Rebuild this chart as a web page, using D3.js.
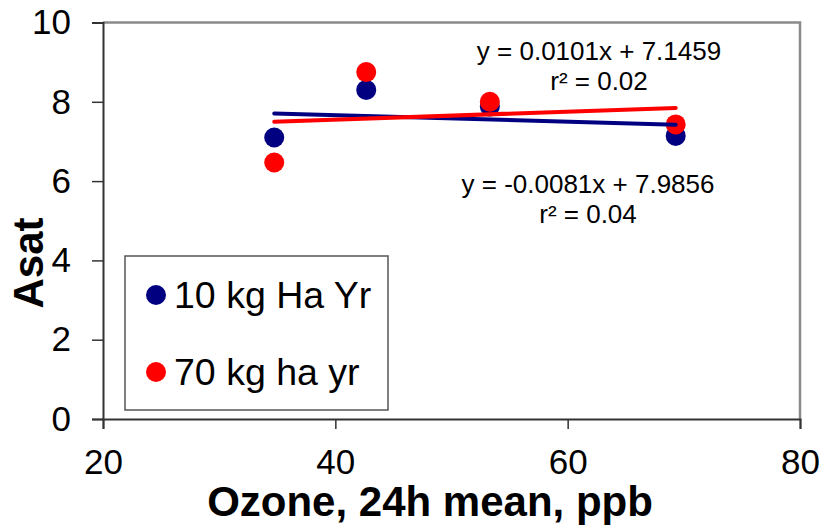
<!DOCTYPE html>
<html>
<head>
<meta charset="utf-8">
<script src="https://cdn.jsdelivr.net/npm/d3@7"></script>
<style>
  html, body { margin: 0; padding: 0; background: #fff; }
  svg { display: block; font-family: "Liberation Sans", Arial, Helvetica, sans-serif; }
</style>
</head>
<body>
<svg id="chart" width="824" height="527"></svg>
<script>
// Ozone exposure (24h mean, ppb) and light-saturated assimilation
const ozone = [34.74, 42.66, 53.3, 69.3];
const asatLowN = [7.10, 8.30, 7.88, 7.14];   // 10 kg Ha Yr
const asatHighN = [6.47, 8.75, 8.00, 7.43];  // 70 kg ha yr

const seriesNames = ["10 kg Ha Yr", "70 kg ha yr"];
const seriesColors = ["#000080", "#FF0000"];

// Linear fits shown on the chart
const fitSlopes = [-0.0081, 0.0101];
const fitIntercepts = [7.9856, 7.1459];
const fitR2 = ["0.04", "0.02"];

const xTicks = [20, 40, 60, 80];
const yTicks = [0, 2, 4, 6, 8, 10];

const svg = d3.select("#chart");
const plotLeft = 103, plotRight = 800, plotTop = 22.5, plotBottom = 419;

const x = d3.scaleLinear().domain([20, 80]).range([plotLeft, plotRight]);
const y = d3.scaleLinear().domain([0, 10]).range([plotBottom, plotTop]);

// Plot frame (top and right edges)
svg.append("path")
  .attr("d", `M${plotLeft},${plotTop}H${plotRight}V${plotBottom}`)
  .attr("fill", "none")
  .attr("stroke", "#8a8a8a")
  .attr("stroke-width", 2.5);

// Y axis
const yAxis = svg.append("g")
  .attr("transform", `translate(${plotLeft},0)`)
  .call(d3.axisLeft(y).tickValues(yTicks).tickSize(11).tickPadding(21).tickFormat(d3.format("d")));
yAxis.select(".domain").attr("stroke", "#333").attr("stroke-width", 2);
yAxis.selectAll(".tick line").attr("stroke", "#333").attr("stroke-width", 1.5);
yAxis.selectAll(".tick text")
  .attr("font-size", 35).attr("fill", "#000")
  .attr("font-family", "'Liberation Sans', Arial, sans-serif");

// X axis
const xAxis = svg.append("g")
  .attr("transform", `translate(0,${plotBottom})`)
  .call(d3.axisBottom(x).tickValues(xTicks).tickSize(10).tickPadding(20).tickFormat(d3.format("d")));
xAxis.select(".domain").attr("stroke", "#333").attr("stroke-width", 2);
xAxis.selectAll(".tick line").attr("stroke", "#333").attr("stroke-width", 1.5);
xAxis.selectAll(".tick text")
  .attr("font-size", 35).attr("fill", "#000")
  .attr("font-family", "'Liberation Sans', Arial, sans-serif");

// Axis titles
svg.append("text")
  .attr("x", 430).attr("y", 516)
  .attr("text-anchor", "middle")
  .attr("font-size", 42).attr("font-weight", "bold")
  .text("Ozone, 24h mean, ppb");

svg.append("text")
  .attr("transform", "translate(43,263) rotate(-90)")
  .attr("text-anchor", "middle")
  .attr("font-size", 42).attr("font-weight", "bold")
  .text("Asat");

// Points
const series = [asatLowN, asatHighN];
series.forEach((vals, i) => {
  svg.append("g").selectAll("circle")
    .data(vals)
    .join("circle")
    .attr("cx", (d, j) => x(ozone[j]))
    .attr("cy", d => y(d))
    .attr("r", 10)
    .attr("fill", seriesColors[i]);
});

// Trend lines over the observed ozone range
const xExtent = d3.extent(ozone);
series.forEach((vals, i) => {
  const line = xExtent.map(v => [v, fitSlopes[i] * v + fitIntercepts[i]]);
  svg.append("line")
    .attr("x1", x(line[0][0])).attr("y1", y(line[0][1]))
    .attr("x2", x(line[1][0])).attr("y2", y(line[1][1]))
    .attr("stroke", seriesColors[i])
    .attr("stroke-width", 4)
    .attr("stroke-linecap", "round");
});

// Fit equations
const fmtCoef = v => (v < 0 ? "-" : "") + Math.abs(v).toFixed(4);
const eqPos = [[588, 193], [599, 60]];
[1, 0].forEach(i => {
  const [cx, cy] = eqPos[i];
  const g = svg.append("g").attr("font-size", 26).attr("text-anchor", "middle");
  g.append("text").attr("x", cx).attr("y", cy)
    .text(`y = ${fmtCoef(fitSlopes[i])}x + ${fitIntercepts[i].toFixed(4)}`);
  g.append("text").attr("x", cx).attr("y", cy + 30)
    .text(`r² = ${fitR2[i]}`);
});

// Legend
const legend = svg.append("g");
legend.append("rect")
  .attr("x", 125).attr("y", 256).attr("width", 263).attr("height", 154)
  .attr("fill", "#fff").attr("stroke", "#555").attr("stroke-width", 1.5);
seriesNames.forEach((name, i) => {
  const cy = 295 + i * 77;
  legend.append("circle").attr("cx", 156).attr("cy", cy).attr("r", 10).attr("fill", seriesColors[i]);
  legend.append("text").attr("x", 174).attr("y", cy + 13)
    .attr("font-size", 37.5).text(name);
});
</script>
</body>
</html>
